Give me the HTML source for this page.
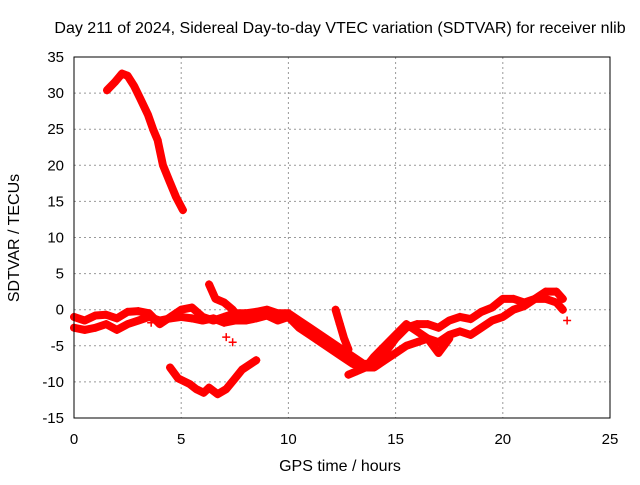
<!DOCTYPE html>
<html><head><meta charset="utf-8"><style>
body{margin:0;background:#fff;font-family:"Liberation Sans",sans-serif;}
svg text{font-family:"Liberation Sans",sans-serif;font-size:15px;fill:#000;}
svg text.big{font-size:16px;}
</style></head><body>
<svg id="c" width="640" height="480">
<text class="big" x="340" y="33" text-anchor="middle">Day 211 of 2024, Sidereal Day-to-day VTEC variation (SDTVAR) for receiver nlib</text>
<text class="big" x="340" y="471" text-anchor="middle">GPS time / hours</text>
<text class="big" transform="translate(19,238) rotate(-90)" text-anchor="middle">SDTVAR / TECUs</text>
<g id="grid"></g><g id="series"></g>
<rect x="74" y="57" width="536" height="361" fill="none" stroke="#000"/>
</svg>
<script>
const xTicks=[0,5,10,15,20,25];
const yTicks=[-15,-10,-5,0,5,10,15,20,25,30,35];
const s1=[[1.54,30.4],[1.9,31.5],[2.24,32.7],[2.5,32.4],[2.8,31],[3.08,29.3],[3.45,27],[3.7,24.9],[3.9,23.5],[4.15,20],[4.48,17.6],[4.76,15.6],[5.08,13.8]];
const s2=[[4.48,-8],[4.85,-9.5],[5.4,-10.3],[5.7,-11],[6.05,-11.5],[6.3,-10.8],[6.7,-11.7],[7.1,-11],[7.46,-9.7],[7.84,-8.3],[8.5,-7]];
const bandA=[[0,-1],[0.5,-1.5],[1,-0.8],[1.5,-0.7],[2,-1.2],[2.5,-0.3],[3,-0.2],[3.5,-0.5],[4,-2],[4.5,-1],[5,0],[5.5,0.3],[6,-1],[6.5,-1.5],[7,-1],[7.5,-0.5],[8,-0.5],[8.5,-0.3],[9,0],[9.5,-0.5],[10,-0.5],[10.5,-1.5],[11,-2.5],[11.5,-3.5],[12,-4.5],[12.5,-5.5],[13,-6.5],[13.5,-7.5],[14,-7.5],[14.5,-6],[15,-4],[15.5,-2.5],[16,-2],[16.5,-2],[17,-2.5],[17.5,-1.5],[18,-1],[18.5,-1.3],[19,-0.3],[19.5,0.3],[20,1.5],[20.5,1.5],[21,1],[21.5,1.5],[22,2.5],[22.5,2.5],[22.8,1.5]];
const bandB=[[0,-2.5],[0.5,-2.8],[1,-2.5],[1.5,-2],[2,-2.8],[2.5,-2],[3,-1.5],[3.5,-1],[4,-1.5],[4.5,-1.2],[5,-1],[5.5,-1.2],[6,-1.5],[6.5,-1.2],[7,-1.8],[7.5,-1.5],[8,-1.5],[8.5,-1.2],[9,-0.8],[9.5,-1.5],[10,-1],[10.5,-2.5],[11,-3.5],[11.5,-4.5],[12,-5.5],[12.5,-6.5],[13,-7.5],[13.5,-8],[14,-8],[14.5,-7],[15,-6],[15.5,-5],[16,-4.5],[16.5,-4],[17,-4.5],[17.5,-3.5],[18,-3],[18.5,-3.5],[19,-2.5],[19.5,-1.5],[20,-1],[20.5,0],[21,0.5],[21.5,1.5],[22,1.5],[22.5,1],[22.8,0]];
const bandC=[[6.3,3.5],[6.6,1.5],[7,1],[7.4,0],[7.8,-1.5],[8,-1.5]];
const bandD=[[12.8,-9],[13.2,-8.5],[13.6,-8],[14,-6.5],[14.5,-5],[15,-3.5],[15.5,-2],[16,-3],[16.5,-4],[17,-6],[17.5,-4]];
const bandE=[[12.2,0],[12.4,-2],[12.6,-4],[12.8,-5.5]];
const extras=[[7.1,-3.8],[7.4,-4.5],[3.6,-1.8],[23,-1.5]];
const allSeries=[s1,s2,bandA,bandB,bandC,bandD,bandE];
const X=h=>74+h*536/25, Y=v=>57+(35-v)*361/50;
const NS="http://www.w3.org/2000/svg";
const grid=document.getElementById('grid'), ser=document.getElementById('series'), svg=document.getElementById('c');
xTicks.forEach(t=>{
 const l=document.createElementNS(NS,'line');
 l.setAttribute('x1',X(t));l.setAttribute('x2',X(t));l.setAttribute('y1',57);l.setAttribute('y2',418);
 l.setAttribute('stroke',t>0&&t<25?'#999':'none');l.setAttribute('stroke-dasharray','2,3');
 
 
 grid.appendChild(l);
 const tx=document.createElementNS(NS,'text');
 tx.setAttribute('x',X(t));tx.setAttribute('y',444);tx.setAttribute('text-anchor','middle');tx.textContent=t;
 
 
 svg.appendChild(tx);
});
yTicks.forEach(t=>{
 const l=document.createElementNS(NS,'line');
 l.setAttribute('x1',74);l.setAttribute('x2',610);l.setAttribute('y1',Y(t));l.setAttribute('y2',Y(t));
 l.setAttribute('stroke',t>-15&&t<35?'#999':'none');l.setAttribute('stroke-dasharray','2,3');
 
 
 grid.appendChild(l);
 const tx=document.createElementNS(NS,'text');
 tx.setAttribute('x',64);tx.setAttribute('y',Y(t)+5);tx.setAttribute('text-anchor','end');tx.textContent=t;
 
 
 svg.appendChild(tx);
});
allSeries.forEach(s=>{
 const p=document.createElementNS(NS,'polyline');
 p.setAttribute('points',s.map(d=>X(d[0])+','+Y(d[1])).join(' '));
 p.setAttribute('fill','none');p.setAttribute('stroke','#f00');p.setAttribute('stroke-width','8');
 p.setAttribute('stroke-linejoin','round');p.setAttribute('stroke-linecap','round');
 
 
 ser.appendChild(p);
});
allSeries.concat([extras]).forEach(s=>s.forEach(d=>{
 const m=document.createElementNS(NS,'path');
 const x=X(d[0]),y=Y(d[1]);
 m.setAttribute('d',`M${x-4},${y}H${x+4}M${x},${y-4}V${y+4}`);
 m.setAttribute('stroke','#f00');m.setAttribute('stroke-width','1.5');
 
 
 ser.appendChild(m);
}));
</script>
</body></html>
